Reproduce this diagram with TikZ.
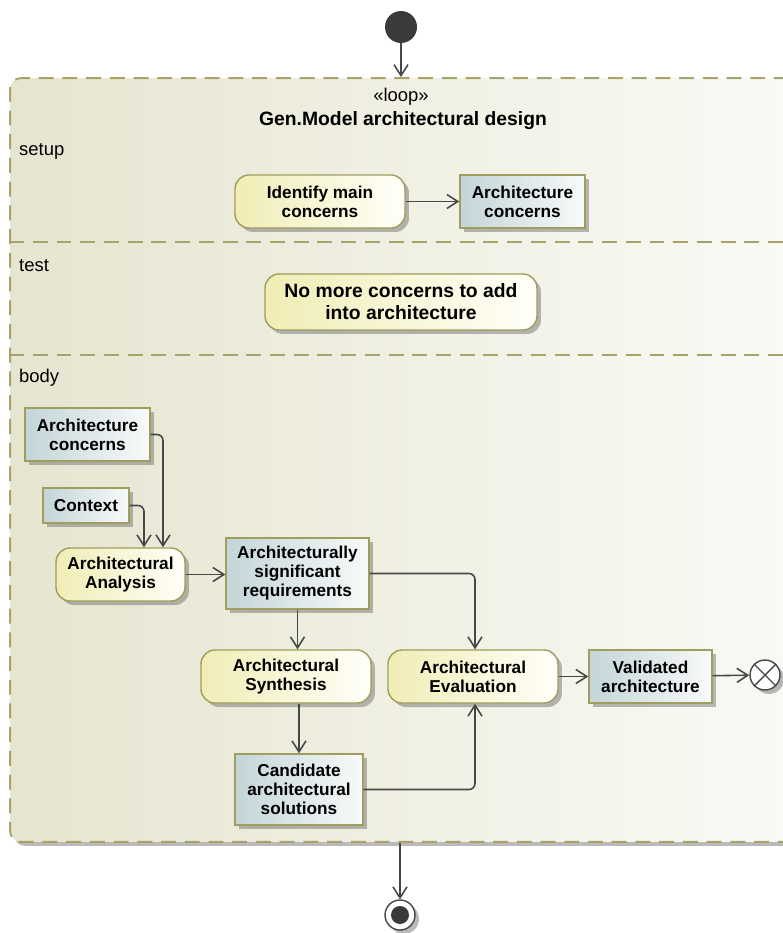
\documentclass[tikz,border=0pt]{standalone}
\usepackage{fontspec}
\setmainfont{Liberation Sans}
\usetikzlibrary{arrows.meta,shadows}
\definecolor{frameline}{HTML}{A7A46A}
\definecolor{frameL}{HTML}{E6E5D0}
\definecolor{frameR}{HTML}{FAFAF6}
\definecolor{nodeline}{HTML}{A09E5E}
\definecolor{actL}{HTML}{F0EDB5}
\definecolor{actR}{HTML}{FFFFF9}
\definecolor{objL}{HTML}{C3D5D8}
\definecolor{objR}{HTML}{F8FAFA}
\definecolor{edgegray}{HTML}{474747}
\definecolor{initgray}{HTML}{3A3A3A}

\begin{document}
\begin{tikzpicture}[x=0.02cm, y=-0.02cm, font=\fontsize{9.8}{10.8}\selectfont\bfseries,
  shade/.style={drop shadow={shadow xshift=0.08cm, shadow yshift=-0.08cm, opacity=0.45, fill=black!60}},
  act/.style={shade, draw=nodeline, line width=0.8pt, rounded corners=0.28cm, left color=actL, right color=actR, align=center, inner sep=0pt},
  obj/.style={shade, draw=nodeline, line width=0.8pt, left color=objL, right color=objR, align=center, inner sep=0pt},
  frame/.style={shade, draw=frameline, line width=1.1pt, dash pattern=on 8.5pt off 5pt, rounded corners=0.22cm, left color=frameL, right color=frameR, inner sep=0pt},
  sep/.style={draw=frameline, line width=1.1pt, dash pattern=on 8.5pt off 5pt},
  lbl/.style={anchor=west, font=\fontsize{10.5}{12}\selectfont},
  edge/.style={draw=edgegray, line width=0.9pt, rounded corners=0.12cm, -{Straight Barb[length=0.22cm, width=0.28cm, line width=0.9pt]}}]
\useasboundingbox (0,0) rectangle (782,933);
\node[frame, minimum width=15.8cm, minimum height=15.28cm] (loop) at (405,460) {};
\draw[sep] (loop.west |- 0,242) -- (loop.east |- 0,242);
\draw[sep] (loop.west |- 0,355) -- (loop.east |- 0,355);
\node[font=\fontsize{10.5}{12}\selectfont] (stereo) at (401,97) {«loop»};
\node[font=\fontsize{11}{13}\selectfont\bfseries] (title) at (403,121) {Gen.Model architectural design};
\node[lbl] (setuplbl) at (13,151) {setup};
\node[lbl] (testlbl) at (13,266) {test};
\node[lbl] (bodylbl) at (13,378) {body};

\node[circle, fill=initgray, minimum size=0.64cm, inner sep=0pt] (init) at (401,27) {};
\node[circle, shade, draw=edgegray, fill=white, line width=0.8pt, minimum size=0.6cm, inner sep=0pt] (flowend) at (765,675) {};
\draw[edgegray, line width=0.8pt] (flowend.north west) -- (flowend.south east) (flowend.north east) -- (flowend.south west);
\node[circle, shade, draw=edgegray, fill=white, line width=0.8pt, minimum size=0.6cm, inner sep=0pt,
  path picture={\fill[initgray] (path picture bounding box.center) circle (0.18cm);}] (final) at (400,915) {};

\node[act, minimum width=3.4cm, minimum height=1.06cm] (idmain) at (320,201.5) {Identify main\\concerns};
\node[obj, minimum width=2.5cm, minimum height=1.06cm] (setconc) at (522.5,201.5) {Architecture\\concerns};
\node[act, minimum width=5.44cm, minimum height=1.12cm, font=\fontsize{11}{12.5}\selectfont\bfseries] (nomore) at (401,302) {No more concerns to add\\into architecture};

\node[obj, minimum width=2.5cm, minimum height=1.06cm] (bodyconc) at (87.5,434.5) {Architecture\\concerns};
\node[obj, minimum width=1.72cm, minimum height=0.7cm] (context) at (86,505.5) {Context};
\node[act, minimum width=2.58cm, minimum height=1.06cm] (analysis) at (120.5,574.5) {Architectural\\Analysis};
\node[obj, minimum width=2.86cm, minimum height=1.42cm] (asr) at (297.5,573.5) {Architecturally\\significant\\requirements};
\node[act, minimum width=3.4cm, minimum height=1.06cm] (synth) at (286,676.5) {Architectural\\Synthesis};
\node[act, minimum width=3.4cm, minimum height=1.06cm] (eval) at (473,676.5) {Architectural\\Evaluation};
\node[obj, minimum width=2.46cm, minimum height=1.06cm] (valid) at (650.5,676.5) {Validated\\architecture};
\node[obj, minimum width=2.56cm, minimum height=1.42cm] (candidate) at (299,789.5) {Candidate\\architectural\\solutions};

\draw[edge] (init) -- (init |- loop.north);
\draw[edge] (idmain) -- (setconc);
\draw[edge] (bodyconc.east) -| ([xshift=0.85cm]analysis.north);
\draw[edge] (context.east) -| ([xshift=0.47cm]analysis.north);
\draw[edge] (analysis.east) -- (analysis.east -| asr.west);
\draw[edge] (asr.east) -| ([xshift=0.04cm]eval.north);
\draw[edge] (asr.south) -- (asr.south |- synth.north);
\draw[edge] (candidate.north |- synth.south) -- (candidate.north);
\draw[edge] (candidate.east) -| ([xshift=0.04cm]eval.south);
\draw[edge] (eval) -- (valid);
\draw[edge] (valid) -- (flowend);
\draw[edge] (final |- loop.south) -- (final);
\end{tikzpicture}
\end{document}
